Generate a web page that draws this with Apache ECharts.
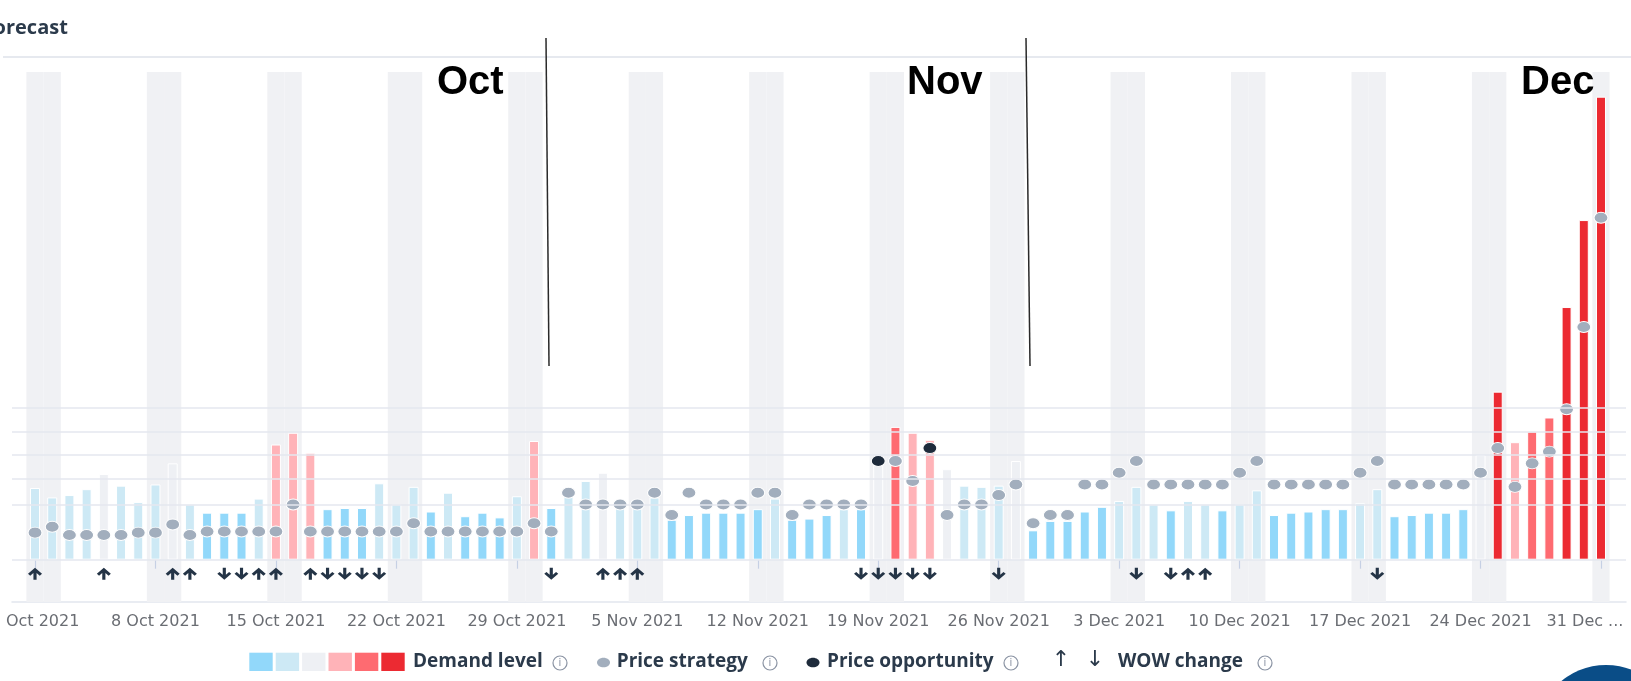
<!DOCTYPE html>
<html>
<head>
<meta charset="utf-8">
<title>Forecast</title>
<script src="https://cdn.jsdelivr.net/npm/echarts@6/dist/echarts.min.js"></script>
<style>
  html, body { margin: 0; padding: 0; background: #ffffff; }
  #chart { width: 1631px; height: 681px; }
</style>
</head>
<body>
<div id="chart"></div>
<script>
// ---- data: one entry per night, 1 Oct 2021 .. 31 Dec 2021 ----
const firstDay = [2021, 9, 1]; // year, month index, day
const monthNames = ['Jan', 'Feb', 'Mar', 'Apr', 'May', 'Jun', 'Jul', 'Aug', 'Sep', 'Oct', 'Nov', 'Dec'];

// forecast demand (index units)
const demand = [
  61, 53, 55, 60, 73, 63, 49, 64, 82, 47,
  40, 40, 40, 52, 98, 108, 91, 43, 44, 44,
  65, 47, 62, 41, 57, 37, 40, 36, 54, 101,
  44, 61, 67, 74, 45, 44, 53, 34, 38, 40,
  40, 40, 43, 52, 34, 35, 38, 43, 43, 81,
  113, 108, 102, 77, 63, 62, 63, 84, 25, 33,
  33, 41, 45, 50, 62, 47, 42, 50, 47, 42,
  47, 59, 38, 40, 41, 43, 43, 48, 60, 37,
  38, 40, 40, 43, 89, 143, 100, 109, 121, 215,
  289, 394
];

// demand level 1 (lowest) .. 6 (highest)
const demandLevel = [
  2, 2, 2, 2, 3, 2, 2, 2, 3, 2,
  1, 1, 1, 2, 4, 4, 4, 1, 1, 1,
  2, 2, 2, 1, 2, 1, 1, 1, 2, 4,
  1, 2, 2, 3, 2, 2, 2, 1, 1, 1,
  1, 1, 1, 2, 1, 1, 1, 2, 1, 3,
  5, 4, 4, 3, 2, 2, 2, 3, 1, 1,
  1, 1, 1, 2, 2, 2, 1, 2, 2, 1,
  2, 2, 1, 1, 1, 1, 1, 2, 2, 1,
  1, 1, 1, 1, 3, 6, 4, 5, 5, 6,
  6, 6
];

// recommended price strategy (same index units)
const priceStrategy = [
  23, 28, 21, 21, 21, 21, 23, 23, 30, 21,
  24, 24, 24, 24, 24, 47, 24, 24, 24, 24,
  24, 24, 31, 24, 24, 24, 24, 24, 24, 31,
  24, 57, 47, 47, 47, 47, 57, 38, 57, 47,
  47, 47, 57, 57, 38, 47, 47, 47, 47, null,
  84, 67, null, 38, 47, 47, 55, 64, 31, 38,
  38, 64, 64, 74, 84, 64, 64, 64, 64, 64,
  74, 84, 64, 64, 64, 64, 64, 74, 84, 64,
  64, 64, 64, 64, 74, 95, 62, 82, 92, 128,
  198, 291
];

// price opportunity nights
const priceOpportunity = priceStrategy.map(function () { return null; });
priceOpportunity[49] = 84;
priceOpportunity[52] = 95;

// week-over-week change: 1 up, -1 down, 0 none
const wowChange = [
  1, 0, 0, 0, 1, 0, 0, 0, 1, 1,
  0, -1, -1, 1, 1, 0, 1, -1, -1, -1,
  -1, 0, 0, 0, 0, 0, 0, 0, 0, 0,
  -1, 0, 0, 1, 1, 1, 0, 0, 0, 0,
  0, 0, 0, 0, 0, 0, 0, 0, -1, -1,
  -1, -1, -1, 0, 0, 0, -1, 0, 0, 0,
  0, 0, 0, 0, -1, 0, -1, 1, 1, 0,
  0, 0, 0, 0, 0, 0, 0, 0, -1, 0,
  0, 0, 0, 0, 0, 0, 0, 0, 0, 0,
  0, 0
];

// horizontal reference levels
const gridLevels = [0, 47, 69, 89, 109, 129];

// month annotations
const monthMarks = [
  { text: 'Oct', left: 437 },
  { text: 'Nov', left: 907 },
  { text: 'Dec', left: 1521 }
];

// ---- derived ----
const categories = [];
const weekend = [];
for (let i = 0; i < demand.length; i++) {
  const d = new Date(firstDay[0], firstDay[1], firstDay[2] + i);
  categories.push(d.getDate() + ' ' + monthNames[d.getMonth()] + ' ' + d.getFullYear());
  const wd = d.getDay();
  weekend.push(wd === 5 || wd === 6);
}

const levelColors = ['#92d8fa', '#cde9f5', '#eef0f4', '#ffb3b8', '#fe6b71', '#ec2a32'];
const ELLIPSE = 'path://M0,50A50,50,0,1,0,100,50A50,50,0,1,0,0,50Z';
const ARROW_UP = 'path://M6,0L12,6L10.1,7.9L7.35,5.15L7.35,12L4.65,12L4.65,5.15L1.9,7.9L0,6Z';
const ARROW_DOWN = 'path://M6,12L12,6L10.1,4.1L7.35,6.85L7.35,0L4.65,0L4.65,6.85L1.9,4.1L0,6Z';
const ARROW_ROW = -12;
const Y_MIN = -36, Y_MAX = 415;

const textDark = '#2b3a4b';
const legendFont = 'bold 19px "Open Sans"';

const chart = echarts.init(document.getElementById('chart'), null, { renderer: 'canvas' });

function infoIcon(cx, cy) {
  return [
    { type: 'circle', z: 100, shape: { cx: cx, cy: cy, r: 7 }, style: { fill: 'none', stroke: '#8a93a3', lineWidth: 1.2 } },
    { type: 'text', z: 100, style: { x: cx, y: cy + 0.5, text: 'i', font: '10px "DejaVu Sans"', fill: '#8a93a3', align: 'center', verticalAlign: 'middle' } }
  ];
}

const graphics = [];
// header rule and title
graphics.push({ type: 'line', z: 100, shape: { x1: 3, y1: 57, x2: 1631, y2: 57 }, style: { stroke: '#e6e9ef', lineWidth: 2 } });
graphics.push({ type: 'text', z: 100, style: { x: -17.4, y: 28.5, text: 'Forecast', font: 'bold 20px "Open Sans"', fill: textDark, verticalAlign: 'middle' } });
// month annotations
monthMarks.forEach(function (m) {
  graphics.push({ type: 'text', z: 100, style: { x: m.left, y: 83, text: m.text, font: 'bold 40px "Liberation Sans"', fill: '#000000', verticalAlign: 'middle' } });
});
graphics.push({ type: 'line', z: 100, shape: { x1: 546, y1: 38, x2: 549, y2: 366 }, style: { stroke: '#2a2a2a', lineWidth: 1.5 } });
graphics.push({ type: 'line', z: 100, shape: { x1: 1026, y1: 38, x2: 1030, y2: 366 }, style: { stroke: '#2a2a2a', lineWidth: 1.5 } });
// legend
levelColors.forEach(function (c, i) {
  graphics.push({ type: 'rect', z: 100, shape: { x: 249.3 + i * 26.4, y: 652.7, width: 23.4, height: 18.3 }, style: { fill: c } });
});
graphics.push({ type: 'text', z: 100, style: { x: 413, y: 662, text: 'Demand level', font: legendFont, fill: textDark, verticalAlign: 'middle' } });
graphics.push.apply(graphics, infoIcon(560, 663));
graphics.push({ type: 'ellipse', z: 100, shape: { cx: 603.5, cy: 662.5, rx: 6.5, ry: 4.8 }, style: { fill: '#a2aebd' } });
graphics.push({ type: 'text', z: 100, style: { x: 616.7, y: 662, text: 'Price strategy', font: legendFont, fill: textDark, verticalAlign: 'middle' } });
graphics.push.apply(graphics, infoIcon(770, 663));
graphics.push({ type: 'ellipse', z: 100, shape: { cx: 813, cy: 662.5, rx: 6.5, ry: 4.8 }, style: { fill: '#1e2b3b' } });
graphics.push({ type: 'text', z: 100, style: { x: 827, y: 662, text: 'Price opportunity', font: legendFont, fill: textDark, verticalAlign: 'middle' } });
graphics.push.apply(graphics, infoIcon(1011, 663));
graphics.push({ type: 'text', z: 100, style: { x: 1061, y: 660, text: '\u2191', font: '22px "DejaVu Sans"', fill: textDark, align: 'center', verticalAlign: 'middle' } });
graphics.push({ type: 'text', z: 100, style: { x: 1095, y: 660, text: '\u2193', font: '22px "DejaVu Sans"', fill: textDark, align: 'center', verticalAlign: 'middle' } });
graphics.push({ type: 'text', z: 100, style: { x: 1118, y: 662, text: 'WOW change', font: legendFont, fill: textDark, verticalAlign: 'middle' } });
graphics.push.apply(graphics, infoIcon(1265, 663));
// chat launcher bubble in the corner
graphics.push({ type: 'circle', z: 100, shape: { cx: 1606, cy: 735, r: 70 }, style: { fill: '#0a4d87' } });

const lastIdx = categories.length - 1;

const option = {
  backgroundColor: '#ffffff',
  animation: false,
  grid: [
    { left: 26.4, right: 21.4, top: 72, bottom: 79, containLabel: false, outerBoundsMode: 'none' },
    { left: 12, right: 5, top: 72, bottom: 79, containLabel: false, outerBoundsMode: 'none' }
  ],
  xAxis: [
    {
      type: 'category', gridIndex: 0, data: categories, boundaryGap: true,
      axisLine: { show: false },
      axisTick: { show: true, interval: 6, alignWithLabel: true, length: 9, lineStyle: { color: '#c6d0e4', width: 1.2 } },
      axisLabel: {
        interval: 6, margin: 12, fontFamily: 'DejaVu Sans', fontSize: 16, color: '#6a6d73',
        showMinLabel: true, showMaxLabel: true,
        formatter: function (v, i) {
          if (i === lastIdx) {
            return '{end|' + v.split(' ').slice(0, 2).join(' ') + ' ...}';
          }
          return v;
        },
        rich: { end: { fontFamily: 'DejaVu Sans', fontSize: 16, color: '#6a6d73', padding: [0, 32, 0, 0] } }
      },
      splitLine: { show: false }
    },
    { type: 'category', gridIndex: 0, data: categories, show: false },
    {
      type: 'value', gridIndex: 1, min: 0, max: 1, position: 'bottom',
      axisLine: { show: true, onZero: false, lineStyle: { color: '#e2e6ee', width: 1.5 } },
      axisTick: { show: false }, axisLabel: { show: false }, splitLine: { show: false }
    }
  ],
  yAxis: [
    { type: 'value', gridIndex: 0, min: Y_MIN, max: Y_MAX, show: false, splitLine: { show: false } },
    { type: 'value', gridIndex: 0, min: 0, max: 1, show: false, splitLine: { show: false } },
    { type: 'value', gridIndex: 1, min: Y_MIN, max: Y_MAX, show: false, splitLine: { show: false } }
  ],
  graphic: graphics,
  series: [
    {
      name: 'Weekend', type: 'bar', xAxisIndex: 1, yAxisIndex: 1, silent: true, z: 0,
      barWidth: '100%',
      itemStyle: { color: '#f0f1f4' },
      data: weekend.map(function (w) { return w ? 1 : '-'; })
    },
    {
      name: 'Reference', type: 'line', xAxisIndex: 2, yAxisIndex: 2, data: [], z: 1,
      markLine: {
        silent: true, symbol: ['none', 'none'], label: { show: false },
        lineStyle: { color: '#e4e7ef', width: 1.5, type: 'solid' },
        data: gridLevels.map(function (v) { return { yAxis: v }; })
      }
    },
    {
      name: 'Demand level', type: 'bar', xAxisIndex: 0, yAxisIndex: 0, z: 2,
      barWidth: 10,
      itemStyle: { borderColor: '#ffffff', borderWidth: 1 },
      data: demand.map(function (v, i) {
        return { value: v, itemStyle: { color: levelColors[demandLevel[i] - 1] } };
      })
    },
    {
      name: 'Price strategy', type: 'scatter', xAxisIndex: 0, yAxisIndex: 0, z: 3,
      symbol: ELLIPSE, symbolSize: [14, 11],
      itemStyle: { color: '#a2aebd', borderColor: '#ffffff', borderWidth: 1, opacity: 1 },
      data: priceStrategy.map(function (v) { return v === null ? '-' : v; })
    },
    {
      name: 'Price opportunity', type: 'scatter', xAxisIndex: 0, yAxisIndex: 0, z: 4,
      symbol: ELLIPSE, symbolSize: [14, 11],
      itemStyle: { color: '#1e2b3b', borderColor: '#ffffff', borderWidth: 1, opacity: 1 },
      data: priceOpportunity.map(function (v) { return v === null ? '-' : v; })
    },
    {
      name: 'WOW change', type: 'scatter', xAxisIndex: 0, yAxisIndex: 0, z: 4,
      symbolSize: [14, 12],
      itemStyle: { color: '#243446', opacity: 1 },
      data: wowChange.map(function (w) {
        if (!w) { return '-'; }
        return { value: ARROW_ROW, symbol: w > 0 ? ARROW_UP : ARROW_DOWN };
      })
    }
  ]
};

chart.setOption(option);
</script>
</body>
</html>
